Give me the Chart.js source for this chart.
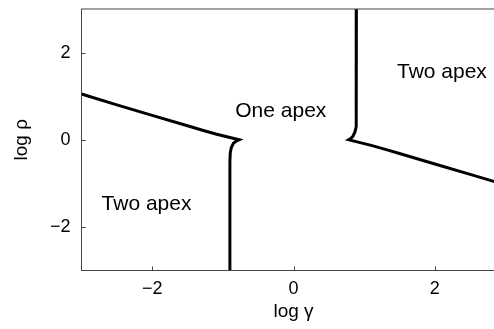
<!DOCTYPE html>
<html>
<head>
<meta charset="utf-8">
<style>
  html, body { margin: 0; padding: 0; overflow: hidden; background: #fff; }
</style>
</head>
<body>
  <div class="chart-container" style="position: relative; height: 329px; width: 512px">
    <canvas id="chart1"></canvas>
  </div>
</body>
<script src="https://cdn.jsdelivr.net/npm/chart.js@4/dist/chart.umd.min.js"></script>
<script>
  // boundary between one-apex and two-apex regions (log gamma, log rho)
  const leftGamma = [-3, -2.5, -2.0, -1.5, -1.3, -1.1, -0.9, -0.77, -0.81, -0.85, -0.88, -0.895, -0.9, -0.9]
  const leftRho = [1.05, 0.8, 0.56, 0.32, 0.225, 0.132, 0.05, 0, -0.03, -0.08, -0.18, -0.3, -0.5, -3]
  const rightGamma = [0.89, 0.89, 0.885, 0.87, 0.84, 0.81, 0.78, 0.9, 1.1, 1.3, 1.5, 2.0, 2.5, 3]
  const rightRho = [3, 0.5, 0.3, 0.18, 0.08, 0.03, 0, -0.048, -0.13, -0.222, -0.315, -0.555, -0.795, -1.035]

  const regionNames = ['One apex', 'Two apex', 'Two apex']
  const regionGamma = [-0.18, 2.1, -2.08]
  const regionRho = [0.65, 1.54, -1.47]

  const tickValues = [-2, 0, 2]

  const toPoints = (xs, ys) => xs.map((x, i) => ({ x: x, y: ys[i] }))
  const minus = v => (v < 0 ? '\u2212' + Math.abs(v) : String(v))

  const frameAndLabels = {
    id: 'frameAndLabels',
    afterDraw(chart) {
      const { ctx, chartArea: a, scales } = chart
      ctx.save()
      ctx.strokeStyle = '#444'
      ctx.lineWidth = 1
      ctx.strokeRect(a.left, a.top, a.right - a.left, a.bottom - a.top)
      // inward ticks
      ctx.beginPath()
      tickValues.forEach(v => {
        const px = Math.round(scales.x.getPixelForValue(v)) + 0.5
        ctx.moveTo(px, a.bottom)
        ctx.lineTo(px, a.bottom - 4)
        const py = Math.round(scales.y.getPixelForValue(v)) + 0.5
        ctx.moveTo(a.left, py)
        ctx.lineTo(a.left + 4, py)
      })
      ctx.stroke()
      // region names
      ctx.fillStyle = '#000'
      ctx.font = '21px "Liberation Sans", Arial, sans-serif'
      ctx.textAlign = 'center'
      ctx.textBaseline = 'middle'
      regionNames.forEach((name, i) => {
        ctx.fillText(
          name,
          scales.x.getPixelForValue(regionGamma[i]),
          scales.y.getPixelForValue(regionRho[i])
        )
      })
      ctx.restore()
    }
  }

  const lineStyle = {
    showLine: true,
    borderColor: '#000',
    borderWidth: 3,
    pointRadius: 0,
    tension: 0,
    fill: false
  }

  new Chart(document.getElementById('chart1'), {
    type: 'scatter',
    data: {
      datasets: [
        Object.assign({ label: 'left', data: toPoints(leftGamma, leftRho) }, lineStyle),
        Object.assign({ label: 'right', data: toPoints(rightGamma, rightRho) }, lineStyle)
      ]
    },
    options: {
      responsive: true,
      maintainAspectRatio: false,
      animation: false,
      layout: { padding: { top: 9, right: 6.5, left: 0, bottom: 0 } },
      plugins: {
        legend: { display: false },
        tooltip: { enabled: false }
      },
      scales: {
        x: {
          type: 'linear',
          min: -3,
          max: 3,
          afterBuildTicks: scale => {
            scale.ticks = tickValues.map(v => ({ value: v }))
          },
          afterFit: scale => {
            scale.height = 58.5
            scale.paddingLeft = 0
            scale.paddingRight = 0
          },
          grid: { display: false, drawTicks: false },
          border: { display: false },
          ticks: {
            padding: 8,
            color: '#000',
            callback: minus,
            font: { family: '"Liberation Sans", Arial, sans-serif', size: 18 }
          },
          title: {
            display: true,
            text: 'log \u03b3',
            color: '#000',
            padding: { top: 0, bottom: 6 },
            font: { family: '"Liberation Sans", Arial, sans-serif', size: 19 }
          }
        },
        y: {
          type: 'linear',
          min: -3,
          max: 3,
          afterBuildTicks: scale => {
            scale.ticks = tickValues.map(v => ({ value: v }))
          },
          afterFit: scale => {
            scale.width = 81.5
            scale.paddingTop = 0
            scale.paddingBottom = 0
          },
          grid: { display: false, drawTicks: false },
          border: { display: false },
          ticks: {
            padding: 11,
            color: '#000',
            callback: minus,
            font: { family: '"Liberation Sans", Arial, sans-serif', size: 18 }
          },
          title: {
            display: true,
            text: 'log \u03c1',
            color: '#000',
            padding: { top: 10, bottom: 0 },
            font: { family: '"Liberation Sans", Arial, sans-serif', size: 19 }
          }
        }
      }
    },
    plugins: [frameAndLabels]
  })
</script>
</html>
